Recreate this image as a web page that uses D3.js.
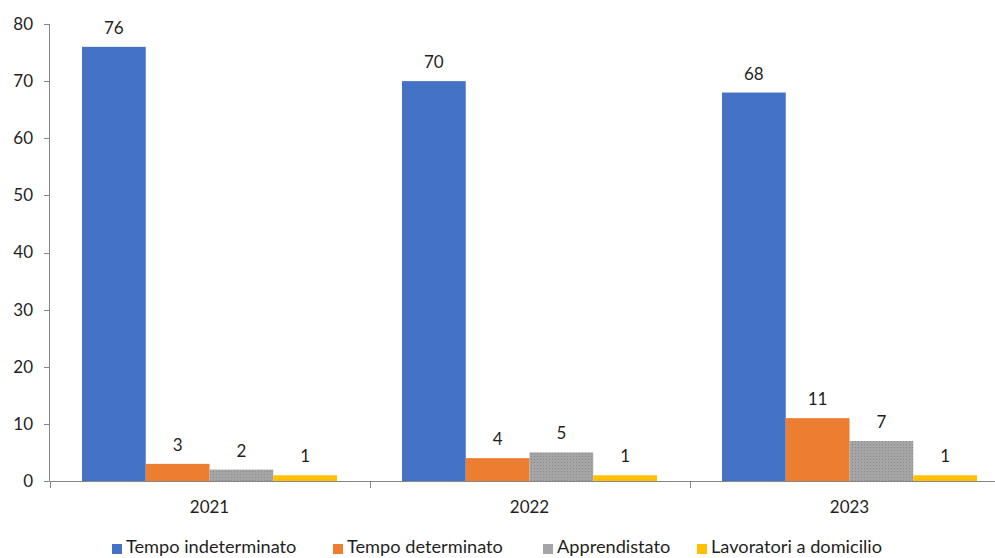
<!DOCTYPE html>
<html><head><meta charset="utf-8">
<script src="https://cdn.jsdelivr.net/npm/d3@7"></script>
<style>body{margin:0;background:#fff}svg{display:block}text{font-family:Lato,"Open Sans",sans-serif;fill:#1f1f1f}</style>
</head><body><svg id="c" width="995" height="558"></svg>
<script>
const categories = ["2021","2022","2023"];
const seriesNames = ["Tempo indeterminato","Tempo determinato","Apprendistato","Lavoratori a domicilio"];
const tempoIndeterminato = [76,70,68];
const tempoDeterminato = [3,4,11];
const apprendistato = [2,5,7];
const lavoratoriDomicilio = [1,1,1];
const yTicks = [0,10,20,30,40,50,60,70,80];
const colors = ["#4472C4","#ED7D31","#A5A5A5","#FFC000"];
const seriesValues = [tempoIndeterminato,tempoDeterminato,apprendistato,lavoratoriDomicilio];

const svg = d3.select("#c");
const defs = svg.append("defs");
const pat = defs.append("pattern").attr("id","dots").attr("width",3).attr("height",3).attr("patternUnits","userSpaceOnUse");
pat.append("rect").attr("width",3).attr("height",3).attr("fill","#A5A5A5");
pat.append("rect").attr("width",1).attr("height",1).attr("fill","#8c8c8c");

const x0 = d3.scaleBand().domain(categories).range([49.5,1009.5]).paddingInner(0).paddingOuter(0);
const x1 = d3.scaleBand().domain(seriesNames).range([32.5, 320-32.5]);
const y = d3.scaleLinear().domain([0,80]).range([481,24]);

const fs = 17;
// y axis
const ya = svg.append("g");
ya.append("line").attr("x1",49.5).attr("x2",49.5).attr("y1",y(80)).attr("y2",y(0)).attr("stroke","#868686");
yTicks.forEach(t=>{
  ya.append("line").attr("x1",44).attr("x2",49.5).attr("y1",Math.round(y(t))+0.5).attr("y2",Math.round(y(t))+0.5).attr("stroke","#868686");
  ya.append("text").attr("x",33).attr("y",y(t)).attr("dy","0.35em").attr("text-anchor","end").attr("font-size",fs).text(t);
});

// bars
categories.forEach((c,ci)=>{
  seriesNames.forEach((s,si)=>{
    const v = seriesValues[si][ci];
    const bx = x0(c)+x1(s);
    svg.append("rect").attr("x",bx).attr("y",y(v)).attr("width",x1.bandwidth()).attr("height",y(0)-y(v))
      .attr("fill", si===2 ? "url(#dots)" : colors[si]);
    svg.append("text").attr("x",bx+x1.bandwidth()/2).attr("y",y(v)-13).attr("text-anchor","middle").attr("font-size",fs).text(v);
  });
});

// x axis
const xa = svg.append("g");
xa.append("line").attr("x1",49.5).attr("x2",1009.5).attr("y1",481.5).attr("y2",481.5).attr("stroke","#868686");
categories.forEach(c=>{
  const xs = x0(c);
  xa.append("line").attr("x1",Math.round(xs)+0.5).attr("x2",Math.round(xs)+0.5).attr("y1",481.5).attr("y2",488).attr("stroke","#868686");
  xa.append("text").attr("x",xs+x0.bandwidth()/2).attr("y",507).attr("dy","0.35em").attr("text-anchor","middle").attr("font-size",fs).text(c);
});

// legend
const legX = [112,333,543,697];
seriesNames.forEach((s,i)=>{
  svg.append("rect").attr("x",legX[i]).attr("y",544).attr("width",10).attr("height",10).attr("fill",colors[i]);
  svg.append("text").attr("x",legX[i]+14).attr("y",553).attr("font-size",18.2).text(s);
});
</script></body></html>
